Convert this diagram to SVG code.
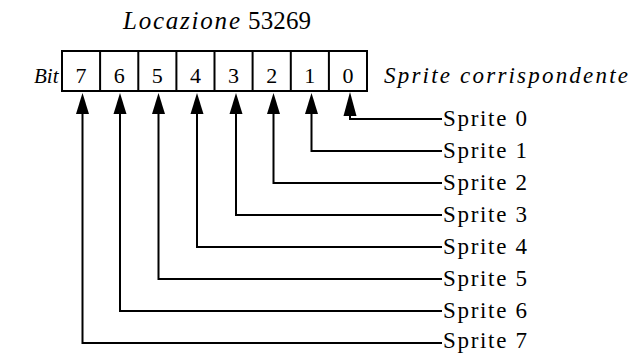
<svg xmlns="http://www.w3.org/2000/svg" width="633" height="353" viewBox="0 0 633 353">
<style>
.box{fill:#fff;stroke:#000;stroke-width:2}
.ln{fill:none;stroke:#000;stroke-width:2}
.ah{fill:#000;stroke:none}
.tx{font-family:'Liberation Serif','Times New Roman',serif;fill:#000}
</style>
<rect width="633" height="353" fill="#fff"/>
<g class="tx">
<g id="title">
<text x="123" y="29" font-size="25" font-style="italic" textLength="117" lengthAdjust="spacing">Locazione</text>
<text x="248" y="29" font-size="25" textLength="63" lengthAdjust="spacing">53269</text>
</g>
<g id="bit-label"><text x="34" y="83" font-size="21" font-style="italic">Bit</text></g>
<g id="register">
<rect class="box" x="62" y="51" width="305" height="40"/>
<path class="ln" d="M100.1 51V91M138.3 51V91M176.4 51V91M214.5 51V91M252.6 51V91M290.8 51V91M328.9 51V91"/>
<g font-size="22" text-anchor="middle">
<text x="81" y="83">7</text>
<text x="119.2" y="83">6</text>
<text x="157.3" y="83">5</text>
<text x="195.4" y="83">4</text>
<text x="233.5" y="83">3</text>
<text x="271.7" y="83">2</text>
<text x="309.8" y="83">1</text>
<text x="347.9" y="83">0</text>
</g>
</g>
<g id="header-right"><text x="384" y="83" font-size="23" font-style="italic" textLength="244" lengthAdjust="spacing">Sprite corrispondente</text></g>
<g id="connectors">
<path class="ln" d="M350 112V119H442"/>
<path class="ln" d="M311.5 112V151H442"/>
<path class="ln" d="M273.5 112V183H442"/>
<path class="ln" d="M236 112V215H442"/>
<path class="ln" d="M197 112V247H442"/>
<path class="ln" d="M158.5 112V279H442"/>
<path class="ln" d="M120 112V311H442"/>
<path class="ln" d="M82.5 112V343H442"/>
<polygon class="ah" points="350,92 356.5,116 343.5,116"/>
<polygon class="ah" points="311.5,93 318,114 305,114"/>
<polygon class="ah" points="273.5,93 280,114 267,114"/>
<polygon class="ah" points="236,93 242.5,114 229.5,114"/>
<polygon class="ah" points="197,93 203.5,114 190.5,114"/>
<polygon class="ah" points="158.5,93 165,114 152,114"/>
<polygon class="ah" points="120,93 126.5,114 113.5,114"/>
<polygon class="ah" points="82.5,93 89,114 76,114"/>
</g>
<g font-size="23">
<g id="sprite0"><text x="443" y="126" textLength="84" lengthAdjust="spacing">Sprite 0</text></g>
<g id="sprite1"><text x="443" y="158" textLength="84" lengthAdjust="spacing">Sprite 1</text></g>
<g id="sprite2"><text x="443" y="190" textLength="84" lengthAdjust="spacing">Sprite 2</text></g>
<g id="sprite3"><text x="443" y="222" textLength="84" lengthAdjust="spacing">Sprite 3</text></g>
<g id="sprite4"><text x="443" y="254" textLength="84" lengthAdjust="spacing">Sprite 4</text></g>
<g id="sprite5"><text x="443" y="286" textLength="84" lengthAdjust="spacing">Sprite 5</text></g>
<g id="sprite6"><text x="443" y="318" textLength="84" lengthAdjust="spacing">Sprite 6</text></g>
<g id="sprite7"><text x="443" y="348" textLength="84" lengthAdjust="spacing">Sprite 7</text></g>
</g>
</g>
</svg>
